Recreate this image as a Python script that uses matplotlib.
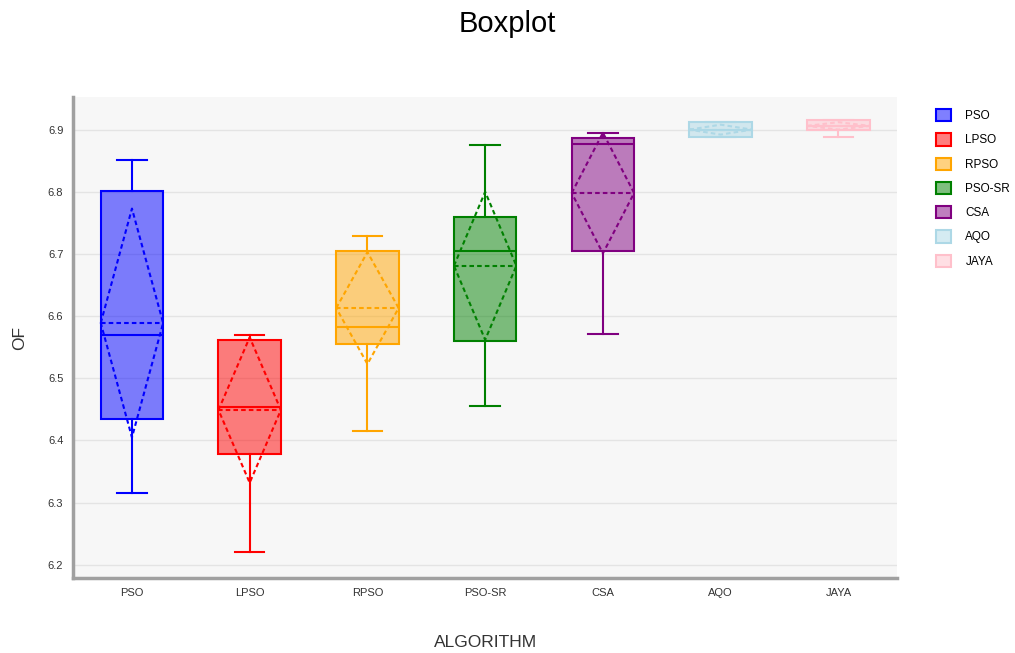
import matplotlib
matplotlib.use("Agg")
import matplotlib.pyplot as plt
from matplotlib.patches import Patch
from matplotlib.colors import to_rgba
import numpy as np

plt.rcParams['font.family'] = ['Liberation Sans', 'DejaVu Sans']

algorithms = ['PSO', 'LPSO', 'RPSO', 'PSO-SR', 'CSA', 'AQO', 'JAYA']
whislo = [6.315, 6.220, 6.416, 6.455, 6.571, 6.888, 6.888]
q1     = [6.435, 6.378, 6.555, 6.560, 6.705, 6.888, 6.899]
med    = [6.570, 6.454, 6.582, 6.705, 6.877, 6.900, 6.906]
q3     = [6.802, 6.561, 6.705, 6.760, 6.886, 6.912, 6.915]
whishi = [6.851, 6.570, 6.729, 6.875, 6.895, 6.912, 6.915]
means  = [6.589, 6.449, 6.613, 6.681, 6.798, 6.900, 6.906]
sds    = [0.184, 0.117, 0.090, 0.119, 0.097, 0.008, 0.006]
colors = ['blue', 'red', 'orange', 'green', 'purple', 'lightblue', 'pink']
yticks = [6.2, 6.3, 6.4, 6.5, 6.6, 6.7, 6.8, 6.9]

fig = plt.figure(figsize=(10.15, 6.53), dpi=100)
ax = fig.add_axes([0.072, 0.115, 0.812, 0.736])
ax.set_facecolor('#f7f7f7')

box_w = 0.53
cap_w = 0.25
positions = np.arange(len(algorithms))

for i, name in enumerate(algorithms):
    c = colors[i]
    stats = [dict(label=name, whislo=whislo[i], q1=q1[i], med=med[i],
                  q3=q3[i], whishi=whishi[i], fliers=[])]
    ax.bxp(stats, positions=[i], widths=box_w, capwidths=cap_w,
           patch_artist=True, showfliers=False,
           boxprops=dict(facecolor=to_rgba(c, 0.5), edgecolor=c, linewidth=1.5),
           medianprops=dict(color=c, linewidth=1.5),
           whiskerprops=dict(color=c, linewidth=1.5),
           capprops=dict(color=c, linewidth=1.5), zorder=3)
    m, s = means[i], sds[i]
    hw = box_w / 2
    ax.plot([i - hw, i + hw], [m, m], color=c, lw=1.5, ls=(0, (2.2, 1.5)), zorder=4)
    ax.plot([i - hw, i, i + hw, i, i - hw], [m, m + s, m, m - s, m],
            color=c, lw=1.5, ls=(0, (2.2, 1.5)), zorder=4)

ax.set_xlim(-0.5, len(algorithms) - 0.5)
ax.set_ylim(6.179, 6.952)
ax.set_xticks(positions)
ax.set_xticklabels(algorithms)
ax.set_yticks(yticks)
ax.set_yticklabels([f'{v:.1f}' for v in yticks])
ax.tick_params(axis='both', length=0, labelsize=8, colors='#333333', pad=7)
ax.yaxis.grid(True, color='#e4e4e4', lw=1, zorder=0)
ax.set_axisbelow(True)
for sp in ['top', 'right']:
    ax.spines[sp].set_visible(False)
for sp in ['left', 'bottom']:
    ax.spines[sp].set_color('#a0a0a0')
    ax.spines[sp].set_linewidth(2.5)

ax.set_xlabel('ALGORITHM', fontsize=12.5, color='#333333', labelpad=27)
ax.set_ylabel('OF', fontsize=12.5, color='#333333', labelpad=15)
fig.suptitle('Boxplot', fontsize=21, y=0.985)

handles = [Patch(facecolor=to_rgba(c, 0.5), edgecolor=c, linewidth=1.5, label=n)
           for n, c in zip(algorithms, colors)]
fig.legend(handles=handles, loc='upper left', bbox_to_anchor=(0.918, 0.84),
           frameon=False, fontsize=8.5, handlelength=1.2, handleheight=1.2,
           labelspacing=0.95, handletextpad=1.25, borderaxespad=0)

fig.savefig('out.png', dpi=100)
